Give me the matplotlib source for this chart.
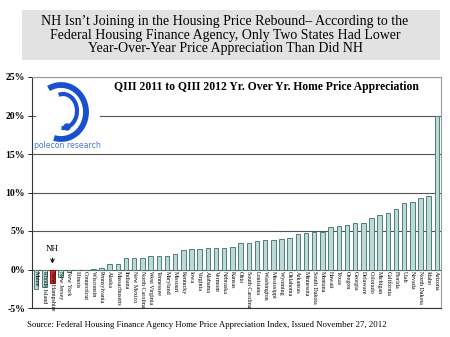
import numpy as np
import matplotlib
matplotlib.use('Agg')
import matplotlib.pyplot as plt
from matplotlib.patches import Rectangle, Arc, Circle

states = ['Maine', 'Rhode Island', 'New Hampshire', 'New Jersey', 'New York', 'Illinois',
          'Connecticut', 'Wisconsin', 'Pennsylvania', 'Alaska', 'Massachusetts', 'Indiana',
          'New Mexico', 'North Carolina', 'West Virginia', 'Tennessee', 'Maryland', 'Missouri',
          'Kentucky', 'Iowa', 'Virginia', 'Alabama', 'Vermont', 'Nebraska', 'Kansas', 'Ohio',
          'South Carolina', 'Louisiana', 'Washington', 'Mississippi', 'Wyoming', 'Oklahoma',
          'Arkansas', 'Minnesota', 'South Dakota', 'Montana', 'Hawaii', 'Texas', 'Oregon',
          'Georgia', 'Delaware', 'Colorado', 'Michigan', 'California', 'Florida', 'Utah',
          'Nevada', 'North Dakota', 'Idaho', 'Arizona']
appreciation = [-2.5, -2.3, -1.7, -1.0, -0.3, -0.1,
                -0.05, 0.05, 0.2, 0.7, 0.7, 1.5,
                1.5, 1.5, 1.8, 1.8, 1.8, 2.0,
                2.5, 2.6, 2.6, 2.8, 2.8, 2.8, 2.9, 3.4,
                3.5, 3.7, 3.8, 3.8, 4.0, 4.1,
                4.6, 4.8, 4.9, 4.9, 5.5, 5.7, 5.8,
                6.1, 6.1, 6.7, 7.1, 7.3, 7.9, 8.6,
                8.8, 9.3, 9.6, 20.0]
yticks = [-5, 0, 5, 10, 15, 20, 25]
highlight = 'New Hampshire'

serif = ['Liberation Serif', 'DejaVu Serif']

fig = plt.figure(figsize=(4.5, 3.37), dpi=100)
W, H = 450, 337

# title box
fig.patches.append(Rectangle((22 / W, 1 - 60 / H), 418 / W, 50 / H, transform=fig.transFigure,
                             facecolor='#e2e2e2', edgecolor='none'))
fig.text(0.5, 1 - 35 / H,
         "NH Isn\u2019t Joining in the Housing Price Rebound\u2013 According to the\n"
         "Federal Housing Finance Agency, Only Two States Had Lower\n"
         "Year-Over-Year Price Appreciation Than Did NH",
         ha='center', va='center', fontsize=10, family=serif, linespacing=1.08)

ax = fig.add_axes([32 / W, 1 - 308 / H, 409 / W, 231 / H])
x = np.arange(len(states))
colors = ['#d42a2a' if s == highlight else '#bcdad6' for s in states]
edges = ['#8a1010' if s == highlight else '#4f7f7b' for s in states]
ax.bar(x, appreciation, width=0.55, color=colors, edgecolor=edges, linewidth=0.7, zorder=3)

ax.set_xlim(-0.5, len(states) - 0.5)
ax.set_ylim(-5, 25)
ax.set_yticks(yticks)
ax.set_yticklabels([f'{t}%' for t in yticks], family=serif, fontweight='bold', fontsize=7)
ax.set_xticks([])
ax.tick_params(axis='y', length=3, width=0.6, pad=2)
for t in yticks:
    ax.axhline(t, color='#555555', linewidth=0.8, zorder=1)
for side in ['top', 'right']:
    ax.spines[side].set_color('#999999')
    ax.spines[side].set_linewidth(0.8)
for side in ['left', 'bottom']:
    ax.spines[side].set_color('#333333')
    ax.spines[side].set_linewidth(0.8)

for i, s in enumerate(states):
    ax.text(i, -0.15, s, rotation=270, ha='center', va='top', fontsize=4.3,
            family=serif, zorder=4)

nh = states.index(highlight)
ax.annotate('NH', xy=(x[nh], 0.4), xytext=(x[nh], 2.2),
            ha='center', va='bottom', fontsize=6.5, family=serif,
            arrowprops=dict(arrowstyle='->', color='black', lw=0.7))

# inner chart title
ax.text(0.574, 0.955, 'QIII 2011 to QIII 2012 Yr. Over Yr. Home Price Appreciation',
        transform=ax.transAxes, ha='center', va='center', fontsize=8.4, fontweight='bold',
        family=serif, zorder=5, bbox=dict(facecolor='white', edgecolor='none', pad=1))

# logo
lax = fig.add_axes([36 / W, 1 - 152 / H, 64 / W, 72 / H])
lax.set_xlim(0, 64)
lax.set_ylim(0, 72)
lax.set_facecolor('white')
for sp in lax.spines.values():
    sp.set_visible(False)
lax.set_xticks([])
lax.set_yticks([])
blue = '#1a4fd0'
lax.add_patch(Arc((25, 40), 50, 54, theta1=-105, theta2=118, color=blue, lw=4.2))
lax.add_patch(Arc((27, 41), 28, 34, theta1=-95, theta2=105, color=blue, lw=3.0))
lax.add_patch(Circle((31, 25), 3.0, color=blue))
lax.text(31, 6, 'polecon research', ha='center', va='center', fontsize=5.6,
         color='#4a78c8', family='DejaVu Sans')

fig.text(27 / W, 1 - 325 / H,
         'Source: Federal Housing Finance Agency Home Price Appreciation Index, Issued November 27, 2012',
         ha='left', va='center', fontsize=6.3, family=serif)

fig.savefig('out.png', dpi=100)
